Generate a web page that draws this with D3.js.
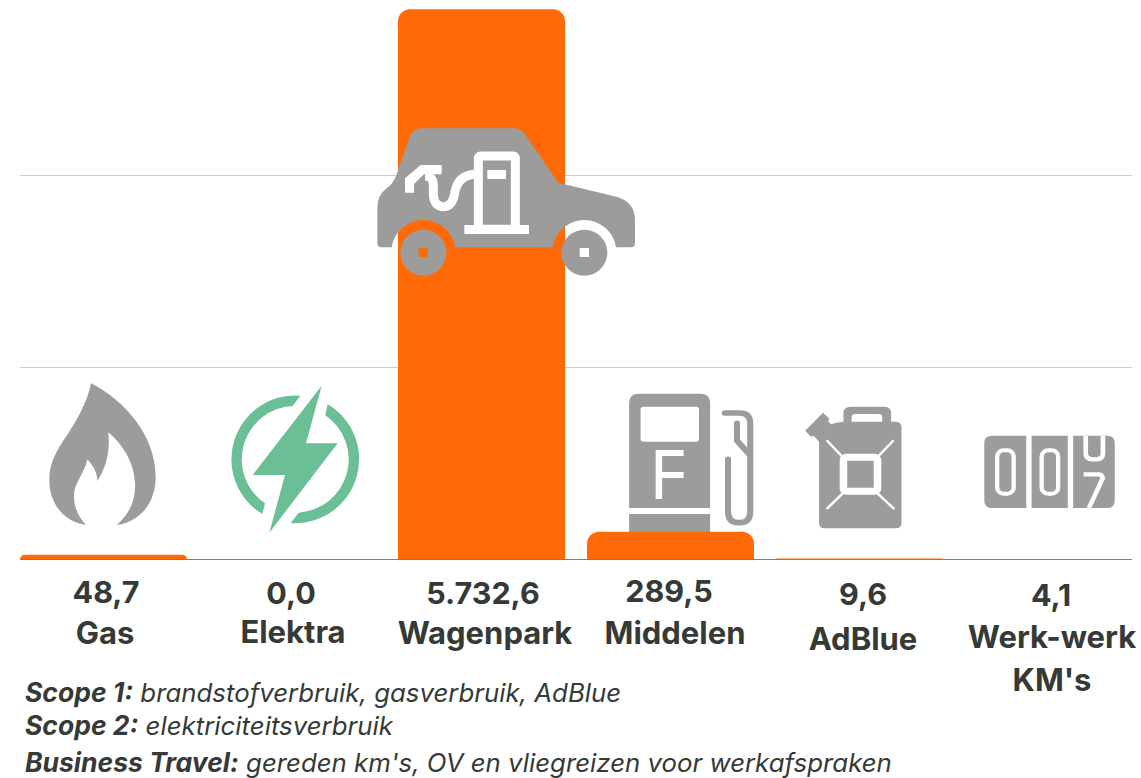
<!DOCTYPE html>
<html>
<head>
<meta charset="utf-8">
<script src="https://cdn.jsdelivr.net/npm/d3@7"></script>
<style>
    html, body { margin: 0; padding: 0; background: #fff; }
    svg { display: block; }
    text { font-family: Inter, sans-serif; fill: #353a36; }
    .label { font-size: 31px; font-weight: 700; text-anchor: middle; }
    .value { font-size: 30.5px; }
    .note { font-size: 25.8px; font-style: italic; }
    .note .lead { font-size: 26.5px; font-weight: 700; }
</style>
</head>
<body>
<div id="chart"></div>
<script>
// Chart values
const categories = ["Gas", "Elektra", "Wagenpark", "Middelen", "AdBlue", "Werk-werk"];
const values = [48.7, 0.0, 5732.6, 289.5, 9.6, 4.1];
const gridTicks = [2000, 4000];
const extraLabelLine = { "Werk-werk": "KM's" };
const noteLeads = ["Scope 1:", "Scope 2:", "Business Travel:"];
const noteTexts = [
    "brandstofverbruik, gasverbruik, AdBlue",
    "elektriciteitsverbruik",
    "gereden km's, OV en vliegreizen voor werkafspraken"
];

const width = 1141;
const height = 778;
const baseline = 559.5;
const orange = "#ff6908";
const gray = "#9c9c9a";
const green = "#6bbf96";

const nl = d3.formatLocale({ decimal: ",", thousands: ".", grouping: [3], currency: ["€", ""] });
const fmt = nl.format(",.1f");

const svg = d3.select("#chart").append("svg")
    .attr("width", width)
    .attr("height", height);

// Scales
const xScale = d3.scaleBand()
    .domain(categories)
    .range([20, 1132])
    .paddingInner(22 / 189);

const yScale = d3.scaleLinear()
    .domain([0, 6000])
    .range([baseline, baseline - 576]);

// Gridlines
const grid = svg.append("g")
    .attr("transform", "translate(20, 0)")
    .call(d3.axisLeft(yScale).tickValues(gridTicks).tickSize(-1112).tickFormat("").offset(0));
grid.select(".domain").remove();
grid.selectAll("line").attr("stroke", "#cccccb");

// Flame
const flame = svg.append("g")
    .attr("transform", `translate(${xScale("Gas")}, 370) scale(${1 / 3})`);
flame.append("path")
    .attr("fill", gray)
    .attr("d", "M213,40 C310,90 405,190 407,320 C407,400 360,455 290,465 C330,430 347,390 345,340 C343,280 310,225 265,187 C270,240 262,285 232,333 C232,310 222,290 202,268 C195,310 160,340 162,380 C163,415 175,440 198,465 C130,455 88,400 88,330 C88,250 140,210 180,130 C195,100 208,70 213,40 Z");

// Bolt
const bolt = svg.append("g")
    .attr("transform", `translate(${xScale("Elektra") - 189}, 370) scale(${1 / 3})`)
    .attr("fill", green);
bolt.append("path").attr("d", "M905,47 L858,220 L953,220 L748,488 L795,315 L698,315 Z");
bolt.append("path").attr("d", "M841,77 A191.5,191.5 0 0 0 727,432 L735,400 A160,160 0 0 1 818,108 Z");
bolt.append("path").attr("d", "M923,103 A191.5,191.5 0 0 1 812,459 L836,428 A160,160 0 0 0 916,136 Z");

// The crop for these three icons reads 2.79 wide by 3 high
const iconScale = `scale(${1 / 2.79}, ${1 / 3})`;

// Fuel pump
const pump = svg.append("g")
    .attr("transform", `translate(${xScale("Middelen") - 7}, 380) ${iconScale}`);
pump.append("path")
    .attr("fill", gray)
    .attr("d", "M137,384 L137,69 Q137,41 165,41 L335,41 Q363,41 363,69 L363,384 Z M137,402 L363,402 L363,480 L137,480 Z");
pump.append("rect").attr("x", 169).attr("y", 80).attr("width", 163).attr("height", 105).attr("rx", 8).attr("fill", "#fff");
pump.append("path").attr("fill", "#fff").attr("d", "M211,210 L289,210 L289,228 L229,228 L229,276 L289,276 L289,294 L229,294 L229,357 L211,357 Z");
pump.append("path")
    .attr("fill", "none").attr("stroke", gray).attr("stroke-width", 17).attr("stroke-linecap", "round")
    .attr("d", "M404,99 L445,99 Q475,99 475,130 L475,395 Q475,428 444,428 Q413,428 413,395 L413,238");
pump.append("path")
    .attr("fill", "none").attr("stroke", gray).attr("stroke-width", 17).attr("stroke-linecap", "round").attr("stroke-linejoin", "round")
    .attr("d", "M438,130 L438,182 L470,220");

// Jerry can
const can = svg.append("g")
    .attr("transform", `translate(${xScale("AdBlue") - 196}, 380) ${iconScale}`);
can.append("path")
    .attr("fill", gray)
    .attr("d", "M700,133 Q720,125 735,125 L735,100 Q735,80 755,80 L850,80 Q868,80 868,100 L868,125 L880,125 Q897,125 897,142 L897,430 Q897,445 880,445 L683,445 Q667,445 667,430 L667,185 L652,167 L645,170 L628,152 L678,98 L696,116 L692,123 Z");
can.append("path").attr("fill", "#fff").attr("d", "M758,125 L758,112 Q758,102 768,102 L833,102 Q843,102 843,112 L843,125 Z");
can.append("rect")
    .attr("x", 735).attr("y", 232).attr("width", 95).attr("height", 102).attr("rx", 8)
    .attr("fill", "none").attr("stroke", "#fff").attr("stroke-width", 21);
can.append("path")
    .attr("fill", "none").attr("stroke", "#fff").attr("stroke-width", 7).attr("stroke-linecap", "round")
    .attr("d", "M690,183 L730,228 M873,183 L833,228 M690,385 L733,340 M875,385 L830,340");

// Odometer
const odo = svg.append("g")
    .attr("transform", `translate(${xScale("Werk-werk") - 385}, 380) ${iconScale}`);
odo.append("path")
    .attr("fill", gray)
    .attr("d", "M1150,167 L1245,167 L1245,384 L1150,384 Q1128,384 1128,362 L1128,189 Q1128,167 1150,167 Z M1260,167 L1361,167 L1361,384 L1260,384 Z M1376,167 L1470,167 Q1492,167 1492,189 L1492,362 Q1492,384 1470,384 L1376,384 Z");
odo.selectAll("rect.zero")
    .data([1164, 1288])
    .join("rect")
    .attr("class", "zero")
    .attr("x", d => d).attr("y", 211).attr("width", 46).attr("height", 130).attr("rx", 18)
    .attr("fill", "none").attr("stroke", "#fff").attr("stroke-width", 12);
odo.append("path")
    .attr("fill", "none").attr("stroke", "#fff").attr("stroke-width", 13)
    .attr("d", "M1411,167 L1411,220 Q1411,238 1430,238 L1441,238 Q1459,238 1459,220 L1459,167 M1405,283 L1448,283 Q1458,283 1458,296 L1420,384");

// Bars, top corners rounded
const barPath = (d) => {
    const x0 = xScale(d.cat);
    const x1 = x0 + xScale.bandwidth();
    const top = yScale(d.value);
    const r = Math.min(12, baseline - top);
    return `M${x0},${baseline} L${x0},${top + r} A${r},${r} 0 0 1 ${x0 + r},${top} L${x1 - r},${top} A${r},${r} 0 0 1 ${x1},${top + r} L${x1},${baseline} Z`;
};

svg.append("g")
    .selectAll("path")
    .data(categories.map((cat, i) => ({ cat, value: values[i] })).filter(d => d.value > 0))
    .join("path")
    .attr("fill", orange)
    .attr("d", barPath);

// Baseline
const axis = svg.append("g")
    .attr("transform", `translate(0, ${baseline})`)
    .call(d3.axisBottom(xScale).tickSize(0).tickFormat("").offset(0));
axis.select(".domain").attr("stroke", "#7f7f7f").attr("d", "M20,0H1132");

// Car sits over the bar
const car = svg.append("g")
    .attr("transform", `translate(${xScale("Wagenpark") - 28}, 110) scale(${1 / 3})`);
car.append("path")
    .attr("fill", gray)
    .attr("fill-rule", "evenodd")
    .attr("d", "M22,400 L22,295 Q22,255 50,235 Q70,220 78,198 L118,85 Q126,55 155,55 L430,55 Q455,55 470,80 L565,218 L745,262 Q795,280 795,330 L795,400 Q795,412 782,412 L738,412 A96,96 0 0 0 548,412 L255,412 A96,96 0 0 0 65,412 L35,412 Q22,412 22,400 Z");
car.selectAll("path.wheel")
    .data([160, 643])
    .join("path")
    .attr("class", "wheel")
    .attr("fill", gray)
    .attr("fill-rule", "evenodd")
    .attr("d", d => `M${d - 69},428 A69,69 0 1 0 ${d + 69},428 A69,69 0 1 0 ${d - 69},428 Z M${d - 14},414 L${d - 14},441 L${d + 14},441 L${d + 14},414 Z`);
// Pump and hose in the car
car.append("rect")
    .attr("x", 325).attr("y", 138).attr("width", 111).attr("height", 220).attr("rx", 6)
    .attr("fill", "none").attr("stroke", "#fff").attr("stroke-width", 27);
car.append("path").attr("fill", "#fff").attr("d", "M283,345 L477,345 L477,372 L283,372 Z M352,180 L408,180 L408,207 L352,207 Z");
car.append("path")
    .attr("fill", "none").attr("stroke", "#fff").attr("stroke-width", 27)
    .attr("d", "M312,193 Q265,197 255,245 Q248,290 222,290 Q190,290 190,250 L190,225 Q190,198 165,198");
car.append("path").attr("fill", "#fff").attr("d", "M105,248 L105,205 L152,165 L215,165 L215,193 L162,193 L132,222 L132,248 Z");

// Labels
const valueDx = [2.5, -1.5, 1.5, -1.5, 3.5, 2.5];
const valueY = [603, 604, 604, 602, 605, 606];
const labelDx = [1.5, 0.5, 3.5, 4.5, 3.5, 3.5];
const labelY = [644, 643, 644, 644, 650, 648];

const labels = svg.append("g");
categories.forEach((cat, i) => {
    const cx = xScale(cat) + xScale.bandwidth() / 2;
    labels.append("text").attr("class", "label value").attr("x", cx + valueDx[i]).attr("y", valueY[i]).text(fmt(values[i]));
    labels.append("text").attr("class", "label").attr("x", cx + labelDx[i]).attr("y", labelY[i]).text(cat);
    if (extraLabelLine[cat]) {
        labels.append("text").attr("class", "label").attr("x", cx + labelDx[i]).attr("y", 691).text(extraLabelLine[cat]);
    }
});

// Notes
const noteY = [702, 735, 772];
noteLeads.forEach((lead, i) => {
    const t = svg.append("text").attr("class", "note").attr("x", 25).attr("y", noteY[i]);
    t.append("tspan").attr("class", "lead").text(lead);
    t.append("tspan").text(" " + noteTexts[i]);
});
</script>
</body>
</html>
